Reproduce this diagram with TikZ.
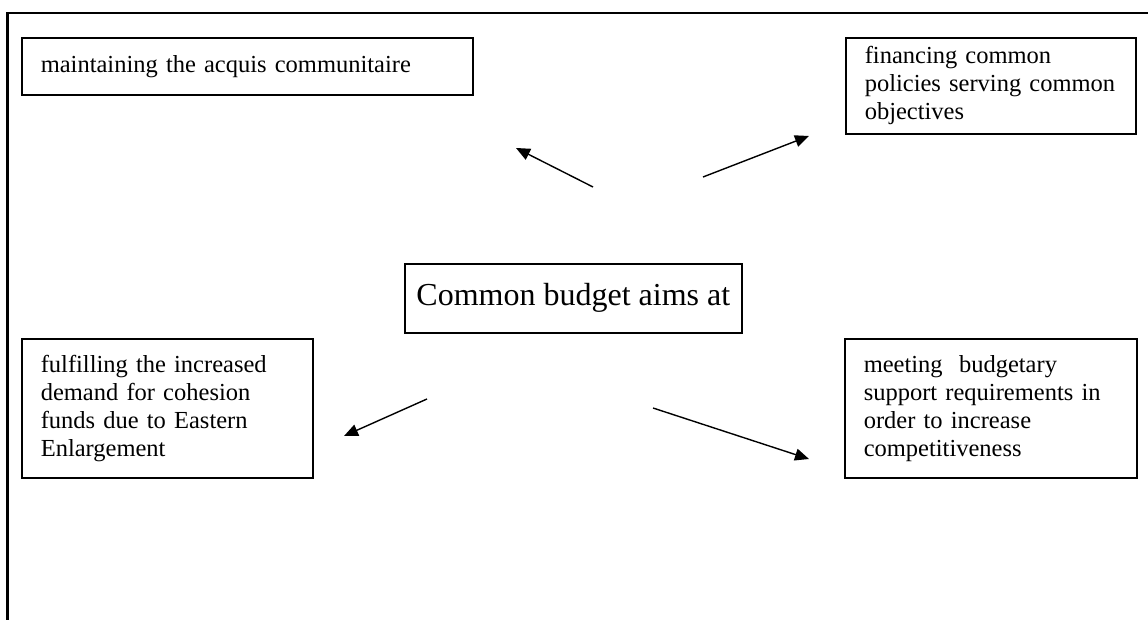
\documentclass[tikz,border=0pt]{standalone}
\usepackage{fontspec}
\setmainfont{Liberation Serif}
\usetikzlibrary{arrows.meta}

\begin{document}
\begin{tikzpicture}[x=0.5pt,y=-0.5pt,
    aim/.style={draw,line width=0.8pt,anchor=north west,align=left,
      inner xsep=9.5pt,inner ysep=0pt,font=\fontsize{12.25}{14}\selectfont},
    stream/.style={-{Triangle[length=7pt,width=6pt]},line width=0.7pt}]
    \useasboundingbox (0,0) rectangle (1148,620);
    % frame
    \draw[line width=1.2pt] (7.5,620) -- (7.5,13) -- (1148,13);

    % centre
    \node[draw,line width=0.8pt,anchor=north west,minimum width=168.5pt,minimum height=34.5pt,
      inner sep=0pt,font=\fontsize{16}{19}\selectfont] (hub) at (404,263) {Common budget aims at};

    % aims
    \node[aim,minimum width=225.5pt,minimum height=28.5pt,text width=206.5pt] (acquis) at (21,37)
      {maintaining the acquis communitaire};
    \node[aim,minimum width=145pt,minimum height=48pt,text width=126pt] (policies) at (845,37)
      {financing common\\policies serving common\\objectives};
    \node[aim,minimum width=145.5pt,minimum height=69.5pt,text width=126.5pt] (cohesion) at (21,338)
      {fulfilling the increased\\demand for cohesion\\funds due to Eastern\\Enlargement};
    \node[aim,minimum width=146pt,minimum height=69.5pt,text width=127pt] (support) at (844,338)
      {meeting\ \ budgetary\\support requirements in\\order to increase\\competitiveness};

    % arrows
    \coordinate (from acquis) at (593,187);
    \coordinate (to acquis) at (516,148);
    \coordinate (from policies) at (703,177);
    \coordinate (to policies) at (809,136);
    \coordinate (from cohesion) at (427,399);
    \coordinate (to cohesion) at (344,436);
    \coordinate (from support) at (653,408);
    \coordinate (to support) at (809,459);
    \draw[stream] (from acquis) -- (to acquis);
    \draw[stream] (from policies) -- (to policies);
    \draw[stream] (from cohesion) -- (to cohesion);
    \draw[stream] (from support) -- (to support);
\end{tikzpicture}
\end{document}
